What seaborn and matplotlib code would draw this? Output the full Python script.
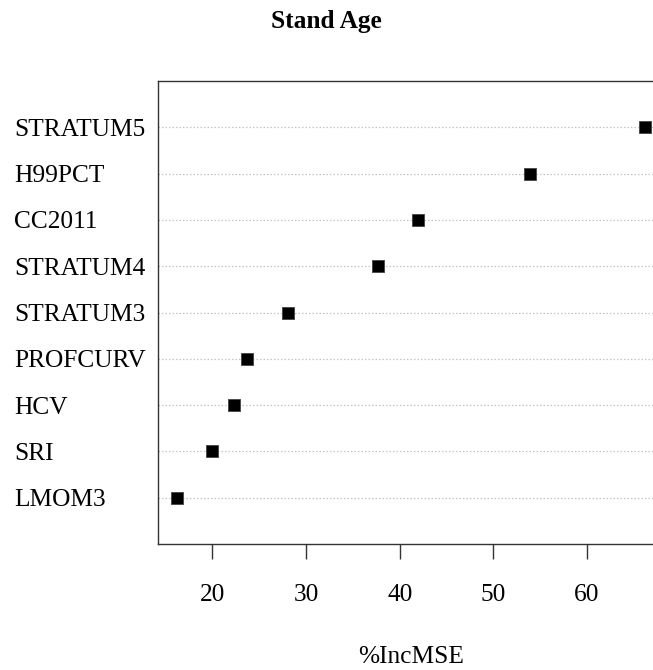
import matplotlib
matplotlib.use("Agg")
import matplotlib.pyplot as plt
import seaborn as sns
import pandas as pd

# Variable importance (% increase in MSE) for the Stand Age random forest
variables = ["STRATUM5", "H99PCT", "CC2011", "STRATUM4", "STRATUM3",
             "PROFCURV", "HCV", "SRI", "LMOM3"]
inc_mse = [66.2, 53.95, 42.0, 37.65, 28.1, 23.75, 22.35, 20.0, 16.25]
x_ticks = [20, 30, 40, 50, 60]

df = pd.DataFrame({"variable": variables, "IncMSE": inc_mse})

sns.set_theme(style="white")
plt.rcParams["font.family"] = ["Liberation Serif", "DejaVu Serif"]
plt.rcParams["text.color"] = "black"
plt.rcParams["axes.labelcolor"] = "black"
plt.rcParams["xtick.color"] = "black"
plt.rcParams["ytick.color"] = "black"

FS = 18.3

fig = plt.figure(figsize=(6.53, 6.70), dpi=100)
ax = fig.add_axes([0.2427, 0.188, 0.774, 0.691])

sns.stripplot(data=df, x="IncMSE", y="variable", order=variables,
              jitter=False, marker="s", size=8.6, color="black",
              linewidth=0.6, edgecolor="#444444", ax=ax, zorder=3)

# R-style axis padding: 4% beyond the data range, one slot above/below rows
lo, hi = min(inc_mse), max(inc_mse)
span = hi - lo
ax.set_xlim(lo - 0.04 * span, hi + 0.04 * span)
ax.set_ylim(len(variables), -1)

ax.set_xticks(x_ticks)
ax.set_xticklabels([str(t) for t in x_ticks])

# dotted guide lines for each variable
ax.grid(axis="y", linestyle=(0, (1.2, 1.6)), color="#c4c4c4", linewidth=0.9)
ax.grid(axis="x", visible=False)
ax.set_axisbelow(True)

for side in ["left", "right", "top", "bottom"]:
    ax.spines[side].set_visible(True)
    ax.spines[side].set_color("#333333")
    ax.spines[side].set_linewidth(1.0)

ax.tick_params(axis="x", length=11, width=1.0, color="#333333",
               pad=18, labelsize=FS, direction="out", bottom=True,
               labelcolor="black")
ax.tick_params(axis="y", length=0, pad=104, labelsize=FS, labelcolor="black")
for lab in ax.get_yticklabels():
    lab.set_horizontalalignment("left")

ax.set_ylabel("")
ax.set_xlabel("%IncMSE", fontsize=FS, va="baseline", color="black")
ax.xaxis.set_label_coords(0.5, -0.257)

fig.text(0.5, 1 - 28 / 670, "Stand Age", ha="center", va="baseline",
         fontsize=FS, fontweight="bold", color="black")

fig.savefig("out.png", dpi=100)
